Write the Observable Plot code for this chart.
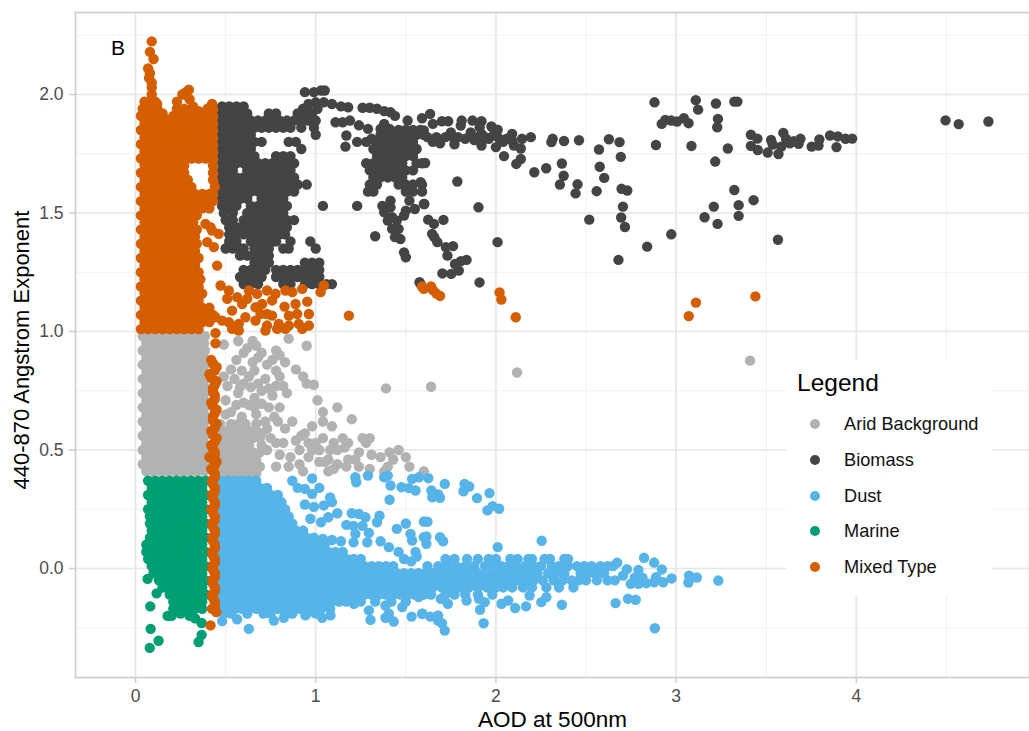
<!DOCTYPE html>
<html><head><meta charset="utf-8">
<script src="https://cdn.jsdelivr.net/npm/d3@7"></script>
<script src="https://cdn.jsdelivr.net/npm/@observablehq/plot@0.6"></script>
<style>
html,body{margin:0;padding:0;background:#fff}
#wrap{position:relative;width:1029px;height:731px;font-family:"Liberation Sans",Arial,sans-serif}
#legend{position:absolute;left:786px;top:360px;width:206px;height:236px;background:#fff}
#legend .t{position:absolute;left:11px;top:9px;font-size:24.5px;color:#000;line-height:28px}
#legend .i{position:absolute;left:58px;font-size:18.2px;line-height:20px;color:#111}
#legend .d{position:absolute;left:24px;width:10px;height:10px;border-radius:50%}
</style></head><body><div id="wrap"></div>
<script>
const xMajor=[0,1,2,3,4], xMinor=[.5,1.5,2.5,3.5,4.5];
const yMajor=[0,.5,1,1.5,2], yMinor=[-.25,.25,.75,1.25,1.75,2.25];
const categories=["Arid Background","Biomass","Dust","Marine","Mixed Type"];
const colors=["#B2B2B2","#444444","#56B4E9","#009E73","#D55E00"];

// Each row: y followed by the x readings at that y (solid overplotted masses)
const aridRows=[
[.98,.04,.08,.12,.16,.2,.24,.28,.32,.36,.385],[.95,.06,.1,.14,.18,.22,.26,.3,.34,.38],[.92,.04,.08,.12,.16,.2,.24,.28,.32,.36,.385],[.89,.06,.1,.14,.18,.22,.26,.3,.34,.38],
[.86,.04,.08,.12,.16,.2,.24,.28,.32,.36,.385],[.83,.06,.1,.14,.18,.22,.26,.3,.34,.38],[.8,.04,.08,.12,.16,.2,.24,.28,.32,.36,.385],[.77,.06,.1,.14,.18,.22,.26,.3,.34,.38],
[.74,.04,.08,.12,.16,.2,.24,.28,.32,.36,.385],[.71,.06,.1,.14,.18,.22,.26,.3,.34,.38],[.68,.04,.08,.12,.16,.2,.24,.28,.32,.36,.385],[.65,.06,.1,.14,.18,.22,.26,.3,.34,.38],
[.62,.04,.08,.12,.16,.2,.24,.28,.32,.36,.385],[.59,.06,.1,.14,.18,.22,.26,.3,.34,.38],[.56,.04,.08,.12,.16,.2,.24,.28,.32,.36,.385],[.53,.06,.1,.14,.18,.22,.26,.3,.34,.38],
[.5,.04,.08,.12,.16,.2,.24,.28,.32,.36,.385],[.47,.06,.1,.14,.18,.22,.26,.3,.34,.38],[.44,.04,.08,.12,.16,.2,.24,.28,.32,.36,.385],[.41,.06,.1,.14,.18,.22,.26,.3,.34,.38],
[.61,.47,.53,.57,.61,.67],[.58,.47,.51,.55,.59,.63,.67],[.55,.45,.49,.53,.57,.61,.65,.69],[.52,.47,.51,.55,.59,.63,.7],[.49,.45,.49,.53,.57,.61,.65,.69],[.46,.47,.51,.55,.59,.63,.67],[.43,.45,.49,.53,.57,.61,.65,.69],[.4,.47,.51,.55,.59,.63,.67]];
const aridPoints=[[.49,.945],[.57,.96],[.65,.96],[.67,.94],[.62,.93],[.7,.91],[.78,.92],[.85,.97],[.95,.94],[.8,.9],[.76,.88],[.56,.88],[.65,.87],[.83,.87],[.53,.84],[.59,.835],[.66,.835],[.89,.84],[.78,.835],[.49,.81],[.63,.81],[.8,.81],[.93,.81],[.51,.77],[.58,.765],[.64,.765],[.78,.77],[.82,.77],[.99,.775],[.95,.78],[.7,.75],[.5,.71],[.57,.74],[.66,.72],[.76,.73],[.56,.69],[.63,.69],[.7,.695],[.8,.68],[1.01,.71],[1.12,.68],[1.39,.76],[1.04,.66],[1.2,.63],[.59,.64],[.67,.65],[.72,.62],[.79,.62],[.87,.62],[.83,.59],[1.04,.62],[1.09,.6],[.98,.6],[.94,.57],[1.04,.55],[.89,.54],[.78,.53],[.82,.53],[1,.53],[1.15,.55],[1.26,.55],[1.3,.55],[1.28,.53],[1.18,.53],[1.12,.5],[.98,.5],[.91,.5],[1.24,.49],[1.31,.48],[1.36,.47],[1.41,.49],[1.46,.5],[1.5,.47],[1.52,.43],[1.43,.46],[.8,.48],[.96,.47],[1.07,.46],[1.05,.45],[1.18,.46],[1.17,.43],[1.24,.43],[1.3,.42],[1.4,.43],[1.38,.41],[1.07,.41],[.78,.43],[.85,.43],[.93,.41],[.91,.44],[1.6,.41],[1.64,.767],[2.117,.827],[3.41,.877],
[.6,.91],[.68,.89],[.73,.86],[.72,.8],[.55,.8],[.6,.78],[.68,.78],[.74,.76],[.6,.7],[.66,.68],[.74,.68],[.77,.64],[.53,.66],[.5,.65],[.84,.74],[.73,.59],[.7,.57],[.75,.55],[.73,.5],[.92,.56],[.96,.53],[1.02,.5],[1.1,.53],[1.16,.51],[1.08,.5],[1.02,.45],[1.12,.44],[1.22,.46],[.86,.47],[1.1,.42]];

const biomassRows=[
[1.95,.48,.52,.56,.6],[1.92,.48,.52,.56,.6,.62,.74,.78,.9,.94,.98],[1.89,.48,.52,.56,.6,.64,.68,.72,.76,.8,.84,.88,.92,.96,1],[1.86,.48,.5,.54,.58,.62,.66,.7,.74,.78,.82,.86,.92,.99],[1.83,.48,.52,.56,.6,.64,1],[1.8,.48,.5,.54,.58,.62,.66,.7,.85,.89],[1.77,.48,.52,.56,.6,.64,.92],[1.74,.48,.5,.54,.58,.62,.66,.78,.82,.86],[1.71,.48,.52,.56,.6,.64,.68,.72,.76,.8,.84,.88],[1.68,.48,.5,.54,.62,.66,.7,.74,.78,.82,.86],[1.65,.48,.52,.56,.6,.64,.68,.72,.76,.8,.84,.88],[1.62,.48,.5,.54,.58,.62,.66,.7,.74,.78,.82,.86,.9,.95],[1.59,.48,.52,.56,.6,.64,.68,.72,.76,.8,.84,.88],[1.56,.48,.5,.54,.58,.62,.7,.74,.78,.82],[1.53,.48,.52,.56,.64,.68,.72,.76,.8,.84,1.04,1.23],[1.5,.49,.54,.62,.66,.7,.74,.78,.82],[1.47,.5,.54,.6,.64,.68,.72,.76,.8,.84,.88],[1.44,.52,.56,.6,.64,.68,.72,.76,.8,.84],[1.41,.52,.56,.6,.64,.68,.72,.76,.8,.83],[1.38,.52,.56,.64,.68,.72,.76,.78,.86,.97],[1.35,.5,.54,.58,.6,.66,.7,.74,.82,.85,1],[1.32,.58,.62,.66,.7,.74],[1.29,.66,.7,.74,.94,.98,1.02],[1.26,.6,.64,.68,.72,.78,.82,.86,.9,.94,.98,1.02],[1.23,.58,.62,.66,.7,.78,.82,.86,.9,.94,.98,1.02],[1.2,.6,.64,.68,.82,.86,.94,.98,1.02,1.06,1.09],
[1.85,1.46,1.5,1.54,1.58],[1.83,1.36,1.4,1.44,1.48,1.52,1.56,1.6],[1.8,1.34,1.38,1.42,1.46,1.5,1.54],[1.77,1.32,1.36,1.4,1.44,1.48,1.52,1.56],[1.74,1.34,1.38,1.42,1.46,1.5,1.54],[1.71,1.28,1.32,1.36,1.4,1.44,1.48,1.56,1.59],[1.68,1.3,1.34,1.38,1.42,1.46,1.5,1.54],[1.65,1.32,1.36,1.4,1.44,1.48],[1.62,1.3,1.34,1.46,1.5,1.54,1.59],[1.59,1.29,1.32,1.5,1.54,1.59]];
const biomassPoints=[[.93,1.94],[.96,1.96],[1,1.967],[1.045,1.967],[1.09,1.96],[1.14,1.95],[1.18,1.946],[.96,1.93],[1.01,1.94],[.94,2.01],[.99,2.01],[1.03,2.017],[1.05,2.017],
[1.26,1.944],[1.3,1.944],[1.34,1.94],[1.38,1.93],[1.415,1.925],[1.44,1.91],[1.38,1.876],[1.36,1.855],[1.41,1.855],[1.11,1.883],[1.15,1.883],[1.19,1.89],[1.24,1.87],[1.29,1.855],[1.17,1.827],[1.165,1.78],[1.23,1.8],[1.28,1.8],[1.31,1.813],[1.36,1.82],[1.51,1.89],[1.59,1.9],
[1.415,1.552],[1.37,1.53],[1.415,1.524],[1.38,1.503],[1.424,1.482],[1.4,1.468],[1.45,1.468],[1.424,1.433],[1.46,1.433],[1.47,1.39],[1.44,1.398],[1.49,1.334],[1.5,1.313],[1.52,1.552],[1.55,1.517],[1.5,1.51],[1.6,1.538],[1.49,1.489],[1.576,1.208],[1.33,1.402],
[1.635,1.918],[1.7,1.887],[1.735,1.887],[1.81,1.89],[1.805,1.869],[1.87,1.89],[1.92,1.887],[1.91,1.862],[1.975,1.865],[2.01,1.851],[2.09,1.834],[1.6,1.848],[1.62,1.82],[1.65,1.876],[1.65,1.8],[1.69,1.794],[1.72,1.82],[1.75,1.84],[1.77,1.79],[1.79,1.82],[1.83,1.813],[1.86,1.84],[1.88,1.808],[1.92,1.785],[1.92,1.834],[1.96,1.813],[2,1.778],[1.985,1.827],[2.02,1.813],[2.04,1.8],[2.06,1.813],[2.09,1.806],[2.1,1.785],[1.67,1.82],[1.77,1.81],[1.9,1.82],[1.94,1.82],
[1.786,1.633],[1.607,1.711],[1.903,1.524],[2.009,1.377],[1.909,1.207],[1.709,1.471],[1.656,1.454],[1.624,1.472],[1.603,1.538],[1.646,1.412],[1.658,1.398],[1.675,1.377],[1.762,1.36],[1.722,1.356],[1.731,1.32],[1.837,1.302],[1.805,1.297],[1.773,1.285],[1.794,1.257],[1.752,1.243],[1.703,1.245],[1.582,1.63],[1.582,1.2],
[2.315,1.813],[2.308,1.799],[2.378,1.804],[2.461,1.807],[2.627,1.811],[2.686,1.799],[2.572,1.768],[2.693,1.737],[2.576,1.695],[2.601,1.648],[2.697,1.602],[2.729,1.595],[2.559,1.592],[2.442,1.583],[2.453,1.621],[2.355,1.62],[2.376,1.657],[2.366,1.709],[2.279,1.689],[2.213,1.672],[2.113,1.707],[2.138,1.728],[2.045,1.74],[2.138,1.772],[2.194,1.82],[2.145,1.813],[2.705,1.527],[2.518,1.472],[2.695,1.481],[2.716,1.441],[2.973,1.41],[2.839,1.358],[2.68,1.302],[3.209,1.527],[3.158,1.482],[3.23,1.454],[3.323,1.597],[3.347,1.533],[3.347,1.488],[3.43,1.554],[3.565,1.387],
[2.88,1.967],[3.109,1.976],[3.122,1.936],[3.221,1.962],[3.323,1.97],[3.34,1.97],[3.232,1.897],[3.228,1.862],[2.92,1.876],[2.94,1.893],[2.973,1.89],[3.005,1.886],[3.043,1.9],[3.069,1.879],[2.888,1.787],[3.085,1.783],[3.287,1.772],[3.217,1.717],[3.415,1.83],[3.451,1.814],[3.415,1.783],[3.453,1.766],[3.508,1.755],[3.527,1.808],[3.536,1.789],[3.568,1.749],[3.583,1.78],[3.595,1.838],[3.61,1.813],[3.631,1.794],[3.652,1.803],[3.69,1.813],[3.68,1.792],[3.752,1.78],[3.79,1.785],[3.795,1.81],[3.854,1.827],[3.897,1.823],[3.89,1.778],[3.94,1.813],[3.977,1.814],[4.495,1.891],[4.568,1.875],[4.733,1.886]];

const dustRows=[
[.37,.47,.51,.55,.59,.63,.67],[.34,.465,.49,.53,.57,.61,.65,.69,.73],[.31,.47,.51,.55,.59,.63,.67,.71,.75,.79],[.28,.465,.49,.53,.57,.61,.65,.69,.73,.77,.81],[.25,.47,.51,.55,.59,.63,.67,.71,.75,.79,.83],[.22,.465,.49,.53,.57,.61,.65,.69,.73,.77,.81,.85],[.19,.47,.51,.55,.59,.63,.67,.71,.75,.79,.83,.87],[.16,.465,.49,.53,.57,.61,.65,.69,.73,.77,.81,.85,.89,.93],[.13,.47,.51,.55,.59,.63,.67,.71,.75,.79,.83,.87,.91,.95,.99],[.1,.465,.49,.53,.57,.61,.65,.69,.73,.77,.81,.85,.89,.93,.97,1.01,1.05],[.07,.47,.51,.55,.59,.63,.67,.71,.75,.79,.83,.87,.91,.95,.99,1.03,1.07,1.11,1.15],[.04,.465,.49,.53,.57,.61,.65,.69,.73,.77,.81,.85,.89,.93,.97,1.01,1.05,1.09,1.13,1.17,1.21,1.25,1.72,1.77,1.84,1.9,1.96,2,2.08,2.12,2.18,2.2,2.27,2.3,2.38,2.4],[.01,.47,.51,.55,.59,.63,.67,.71,.75,.79,.83,.87,.91,.95,.99,1.03,1.07,1.11,1.15,1.19,1.23,1.27,1.31,1.35,1.39,1.43,1.62,1.68,1.73,1.78,1.83,1.88,1.94,1.99,2.03,2.07,2.11,2.16,2.21,2.25,2.31,2.35,2.4,2.45,2.49,2.53,2.58,2.62,2.65],[-.02,.465,.49,.53,.57,.61,.65,.69,.73,.77,.81,.85,.89,.93,.97,1.01,1.05,1.09,1.13,1.17,1.21,1.25,1.29,1.33,1.37,1.41,1.45,1.49,1.53,1.57,1.61,1.65,1.7,1.75,1.8,1.85,1.9,1.95,2,2.05,2.1,2.14,2.19,2.23,2.29,2.33,2.38,2.47,2.51,2.55,2.6],[-.05,.47,.51,.55,.59,.63,.67,.71,.75,.79,.83,.87,.91,.95,.99,1.03,1.07,1.11,1.15,1.19,1.23,1.27,1.31,1.35,1.39,1.43,1.47,1.51,1.55,1.59,1.63,1.67,1.72,1.77,1.82,1.87,1.92,1.97,2.02,2.07,2.12,2.17,2.21,2.26,2.32,2.37,2.42,2.46,2.5,2.56,2.62,2.66],[-.08,.465,.49,.53,.57,.61,.65,.69,.73,.77,.81,.85,.89,.93,.97,1.01,1.05,1.09,1.13,1.17,1.21,1.25,1.29,1.33,1.37,1.41,1.45,1.49,1.53,1.57,1.61,1.65,1.7,1.75,1.8,1.85,1.9,1.95,2,2.04,2.09,2.15,2.2,2.28,2.35,2.43],[-.11,.47,.51,.55,.59,.63,.67,.71,.75,.79,.83,.87,.91,.95,.99,1.03,1.07,1.11,1.15,1.19,1.23,1.27,1.31,1.35,1.39,1.43,1.47,1.51,1.55,1.6,1.64,1.72,1.77,1.83,1.9,1.98],[-.14,.465,.49,.53,.57,.61,.65,.69,.73,.77,.81,.85,.89,.93,.97,1.01,1.05,1.09,1.13,1.17,1.25,1.33,1.42,1.5],[-.17,.47,.51,.55,.59,.63,.67,.71,.75,.79,.83,.87,.91,.95,.99,1.03,1.08],[-.19,.49,.53,.62,.71,.75,.83,.87,.95,1]];
const dustPoints=[[.87,.37],[.9,.34],[.94,.336],[.98,.38],[1.02,.34],[.98,.315],[1.08,.3],[1.09,.28],[.94,.27],[.99,.26],[1.045,.266],[1.12,.233],[1.07,.216],[1.03,.195],[.97,.21],[1.41,.29],[1.2,.233],[1.24,.23],[1.276,.216],[1.17,.184],[1.21,.18],[1.26,.18],[1.354,.223],[1.34,.195],[1.5,.19],[1.45,.167],[1.295,.15],[1.22,.146],[1.21,.11],[1.286,.11],[1.36,.115],[1.406,.09],[1.526,.146],[1.535,.118],[1.6,.198],[1.6,.132],[1.554,.07],[1.09,.12],[1.14,.115],[1.04,.125],[1.22,.385],[1.225,.364],[1.29,.392],[1.38,.385],[1.415,.35],[1.476,.343],[1.517,.339],[1.554,.329],[1.535,.378],[1.572,.385],[1.4,.392],[1.625,.381],[1.716,.357],[1.826,.357],[1.852,.346],[1.82,.326],[1.964,.318],[1.895,.297],[1.642,.329],[1.68,.312],[1.647,.3],[1.69,.298],[1.953,.245],[1.982,.263],[2.018,.252],[1.62,.197],[1.614,.135],[1.69,.132],[1.707,.115],[1.614,.104],[2.01,.09],[2.254,.117],[1.46,.07],[1.49,.04],[1.53,.03],[1.56,.05],
[2.822,.045],[2.878,.025],[2.921,-.004],[2.975,-.042],[3.072,-.03],[3.115,-.038],[3.068,-.059],[3.234,-.051],[2.791,-.006],[2.727,-.003],[2.673,.024],[2.705,-.03],[2.748,-.065],[2.791,-.065],[2.835,-.062],[2.878,-.058],[2.928,-.058],[2.889,-.037],[2.813,-.039],[2.77,-.039],
[1.694,-.128],[1.733,-.149],[1.837,-.135],[1.906,-.128],[1.938,-.142],[1.912,-.174],[2.031,-.149],[2.068,-.135],[2.107,-.167],[2.167,-.16],[2.187,-.114],[2.252,-.142],[2.28,-.121],[2.366,-.153],[2.664,-.146],[2.733,-.128],[2.776,-.132],[2.882,-.252],[1.932,-.231],[1.716,-.262],[1.701,-.231],[1.679,-.198],[1.636,-.203],[1.593,-.191],[1.679,-.22],
[.481,-.222],[.564,-.214],[.629,-.255],[.768,-.22],[.823,-.208],[.943,-.198],[1.036,-.208],[1.082,-.198],[1.304,-.217],[1.387,-.208],[1.433,-.224],[1.532,-.203],[1.212,-.149],[1.387,-.156],[1.48,-.163],[1.406,-.191],[1.295,-.177],[1.59,-.191],[1.572,-.121]];

const marineRows=[
[.37,.07,.11,.15,.19,.23,.27,.31,.35,.39],[.34,.09,.13,.17,.21,.25,.29,.33,.37],[.31,.07,.11,.15,.19,.23,.27,.31,.35,.39],[.28,.09,.13,.17,.21,.25,.29,.33,.37],[.25,.07,.11,.15,.19,.23,.27,.31,.35,.39],[.22,.08,.13,.17,.21,.25,.29,.33,.37],[.19,.08,.11,.15,.19,.23,.27,.31,.35,.39],[.16,.09,.13,.17,.21,.25,.29,.33,.37],[.13,.08,.11,.15,.19,.23,.27,.31,.35,.39],[.1,.06,.09,.13,.17,.21,.25,.29,.33,.37],[.07,.06,.11,.15,.19,.23,.27,.31,.35,.39],[.04,.07,.09,.13,.17,.21,.25,.29,.33,.37],[.01,.09,.13,.15,.19,.23,.27,.31,.35,.39],[-.02,.1,.13,.17,.21,.25,.29,.33,.37],[-.05,.13,.15,.19,.23,.27,.31,.35,.39],[-.08,.15,.17,.21,.25,.29,.33,.37],[-.11,.19,.23,.27,.31,.35,.39],[-.14,.21,.25,.29,.33,.37],[-.17,.21,.25,.29,.33,.37]];
const marinePoints=[[.067,-.044],[.117,-.105],[.082,-.16],[.178,-.2],[.2,-.2],[.25,-.19],[.3,-.2],[.33,-.21],[.084,-.255],[.128,-.305],[.079,-.335],[.35,-.31],[.367,-.28],[.367,-.23]];

const mixedRows=[
[1.97,.05,.08,.11],[1.94,.04,.08,.12,.23,.27,.31,.41,.43],[1.91,.03,.07,.11,.15,.21,.25,.29,.33,.37,.41,.43],[1.88,.05,.09,.13,.17,.21,.23,.27,.31,.35,.39,.43],[1.85,.03,.07,.11,.15,.19,.23,.27,.31,.35,.39,.43],[1.82,.05,.09,.13,.17,.21,.25,.29,.33,.37,.41,.43],[1.79,.03,.07,.11,.15,.19,.23,.27,.31,.35,.39,.43],[1.76,.05,.09,.13,.17,.21,.25,.29,.33,.37,.41,.43],[1.73,.03,.07,.11,.15,.19,.23,.27,.31,.35,.39,.43],[1.7,.05,.09,.13,.17,.21,.25,.27,.43],[1.67,.03,.07,.11,.15,.19,.23,.27,.43],[1.64,.05,.09,.13,.17,.21,.25,.29,.43],[1.61,.03,.07,.11,.15,.19,.23,.27,.31,.44],[1.58,.05,.09,.13,.17,.21,.25,.29,.33,.37,.41,.43],[1.55,.03,.07,.11,.15,.19,.23,.27,.31,.35,.39,.43],[1.52,.05,.09,.13,.17,.21,.25,.29,.33,.37,.41],[1.49,.03,.07,.11,.15,.19,.23,.27,.31,.34],[1.46,.05,.09,.13,.17,.21,.25,.29,.32],[1.43,.03,.07,.11,.15,.19,.23,.27,.31,.34],[1.4,.05,.09,.13,.17,.21,.25,.29,.33],[1.37,.03,.07,.11,.15,.19,.23,.27,.31,.34],[1.34,.05,.09,.13,.17,.21,.25,.29,.33],[1.31,.03,.07,.11,.15,.19,.23,.27,.31,.35],[1.28,.05,.09,.13,.17,.21,.25,.29,.33],[1.25,.03,.07,.11,.15,.19,.23,.27,.31,.35],[1.22,.05,.09,.13,.17,.21,.25,.29,.33,.36],[1.19,.03,.07,.11,.15,.19,.23,.27,.31,.35],[1.16,.05,.09,.13,.17,.21,.25,.29,.33,.37],[1.13,.03,.07,.11,.15,.19,.23,.27,.31,.35],[1.1,.05,.09,.13,.17,.21,.25,.29,.33,.37,.41],[1.07,.03,.07,.11,.15,.19,.23,.27,.31,.35,.39,.43],[1.04,.05,.09,.13,.17,.21,.25,.29,.33,.37,.41],[1.01,.03,.07,.11,.15,.19,.23,.27,.31,.35]];
const mixedPoints=[[.09,2.224],[.08,2.18],[.1,2.15],[.07,2.11],[.08,2.09],[.075,2.07],[.09,2.05],[.09,2.03],[.09,2],[.12,1.96],[.15,1.92],[.18,1.89],[.296,2.02],[.28,2.01],[.26,2],[.23,1.97],[.3,1.98],[.32,1.95],[.425,1.96],[.4,1.94],[.35,1.93],[.37,1.9],
[.388,1.454],[.425,1.426],[.462,1.412],[.398,1.377],[.435,1.356],[.416,1.44],[.453,1.278],
[.472,1.194],[.518,1.173],[.564,1.145],[.509,1.138],[.536,1.088],[.592,1.116],[.629,1.173],[.675,1.159],[.62,1.138],[.666,1.102],[.73,1.173],[.777,1.159],[.832,1.173],[.87,1.166],[.888,1.116],[.827,1.105],[.953,1.126],[.925,1.18],[1.027,1.166],[1.045,1.194],[1.184,1.067],[.703,1.116],[.758,1.131],[.73,1.074],[.694,1.074],[.758,1.067],[.851,1.067],[.897,1.074],[.962,1.074],[.962,1.025],[.906,1.032],[.851,1.025],[.795,1.032],[.73,1.025],[.666,1.046],[.61,1.06],[.573,1.032],[.518,1.039],[.481,1.046],[.444,1.06],[.536,1.011],[.573,1.004],[.721,1.004],[.786,1.011],[.832,1.011],[.925,1.011],
[1.59,1.19],[1.6,1.18],[1.64,1.19],[1.65,1.175],[1.67,1.16],[1.69,1.15],[2.02,1.165],[2.03,1.135],[2.11,1.06],[3.07,1.065],[3.11,1.122],[3.44,1.148],
[.444,.993],[.444,.95],[.42,.88],[.45,.85],[.43,.865],[.41,.82],[.44,.835],[.45,.79],[.42,.805],[.43,.76],[.44,.775],[.44,.73],[.43,.745],[.42,.7],[.44,.715],[.45,.67],[.43,.685],[.43,.64],[.44,.655],[.45,.61],[.43,.625],[.42,.58],[.44,.595],[.45,.55],[.43,.565],[.42,.52],[.44,.535],[.44,.49],[.43,.505],[.41,.47],[.44,.48],[.45,.45],[.43,.46],[.42,.42],[.44,.435],[.44,.4],[.43,.41],[.425,.37],[.44,.385],[.44,.34],[.43,.355],[.425,.31],[.44,.325],[.44,.28],[.43,.295],[.42,.25],[.44,.265],[.44,.22],[.43,.235],[.425,.19],[.44,.205],[.44,.16],[.43,.175],[.425,.13],[.44,.145],[.44,.1],[.43,.115],[.425,.07],[.44,.085],[.44,.04],[.43,.055],[.425,.01],[.44,.025],[.44,-.02],[.43,-.005],[.425,-.05],[.44,-.035],[.44,-.08],[.43,-.065],[.425,-.11],[.44,-.095],[.44,-.14],[.43,-.125],[.425,-.17],[.44,-.155],[.448,-.184],[.416,-.24]];

const fromRows=rows=>rows.flatMap(([y,...xs])=>xs.map(x=>[x,y]));
const series=[
 [aridRows,aridPoints],[biomassRows,biomassPoints],[dustRows,dustPoints],[marineRows,marinePoints],[mixedRows,mixedPoints]
];
const table=series.flatMap(([rows,pts],i)=>[...fromRows(rows),...pts].map(([x,y])=>({x,y,type:categories[i]})));

const xTicks=xMajor, yTicks=yMajor;
const gridMajor="#e6e6e6", gridMinor="#f1f1f1";
const chart=Plot.plot({
 width:1029,height:731,marginLeft:75,marginRight:0,marginTop:12,marginBottom:54,
 style:{fontFamily:'"Liberation Sans",Arial,sans-serif',background:"#fff"},
 x:{domain:[-.333,4.961]},
 y:{domain:[-.46,2.346]},
 color:{domain:categories,range:colors},
 marks:[
  Plot.ruleX(xMinor,{stroke:gridMinor,strokeWidth:1}),
  Plot.ruleY(yMinor,{stroke:gridMinor,strokeWidth:1}),
  Plot.ruleX(xMajor,{stroke:gridMajor,strokeWidth:1.7}),
  Plot.ruleY(yMajor,{stroke:gridMajor,strokeWidth:1.7}),
  Plot.dot(table,{x:"x",y:"y",fill:"type",r:5.2,stroke:null}),
  Plot.frame({stroke:"#cccccc",strokeWidth:1.6}),
  Plot.axisX(xTicks,{label:null,tickSize:6,tickPadding:6,fontSize:17.5,stroke:"#cccccc",strokeWidth:1.5,color:"#4d4d4d",fill:"#4d4d4d",tickFormat:d=>String(d)}),
  Plot.axisY(yTicks,{label:null,tickSize:6,tickPadding:6,fontSize:17.5,stroke:"#cccccc",strokeWidth:1.5,color:"#4d4d4d",fill:"#4d4d4d",tickFormat:d3.format(".1f")}),
  Plot.text(["AOD at 500nm"],{frameAnchor:"bottom",dy:49,fontSize:22.5,fill:"#000"}),
  Plot.text(["440-870 Angstrom Exponent"],{frameAnchor:"left",textAnchor:"middle",dx:-54,dy:5,rotate:-90,fontSize:22,fill:"#000"}),
  Plot.text(["B"],{x:[-.097],y:[2.194],fontSize:21,fill:"#000"})
 ]
});
const wrap=document.getElementById("wrap");
wrap.appendChild(chart);
const lg=document.createElement("div");lg.id="legend";
const tt=document.createElement("div");tt.className="t";tt.textContent="Legend";lg.appendChild(tt);
categories.forEach((c,i)=>{
 const top=[64,100,136,171,207][i];
 const d=document.createElement("div");d.className="d";d.style.top=(top-5)+"px";d.style.background=colors[i];lg.appendChild(d);
 const t=document.createElement("div");t.className="i";t.style.top=(top-10)+"px";t.textContent=c;lg.appendChild(t);
});
wrap.appendChild(lg);
</script></body></html>
